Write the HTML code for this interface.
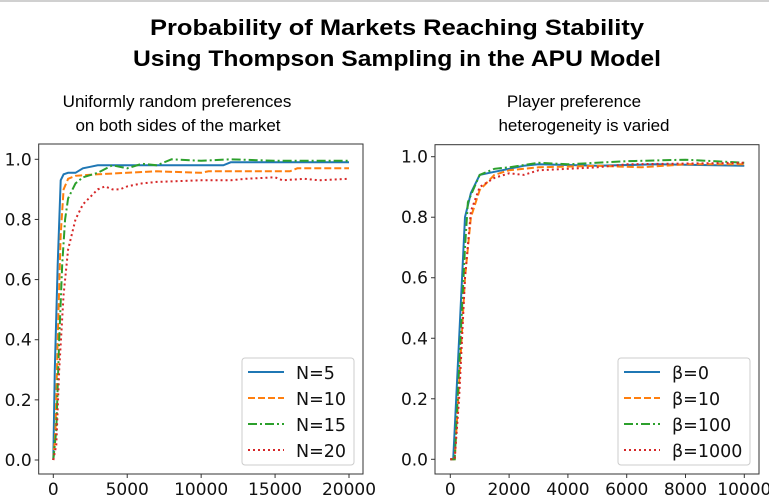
<!DOCTYPE html>
<html><head><meta charset="utf-8"><style>
html,body{margin:0;padding:0;background:#fff;width:769px;height:499px;overflow:hidden}
svg{display:block}
.t{font-family:"Liberation Sans",sans-serif;font-weight:bold;font-size:22px;fill:#000}
.s{font-family:"Liberation Sans",sans-serif;font-size:17px;fill:#000}
.k{font-family:"DejaVu Sans",sans-serif;font-size:17px;fill:#111}
.lg{font-family:"DejaVu Sans",sans-serif;font-size:17.5px;fill:#111}
</style></head><body>
<svg id="c" width="769" height="499" xmlns="http://www.w3.org/2000/svg">
<rect x="0" y="0" width="769" height="2" fill="#d0d0d0"/>
<text class="t" x="397" y="35" text-anchor="middle" textLength="494" lengthAdjust="spacingAndGlyphs">Probability of Markets Reaching Stability</text>
<text class="t" x="397" y="66" text-anchor="middle" textLength="528" lengthAdjust="spacingAndGlyphs">Using Thompson Sampling in the APU Model</text>
<text class="s" x="177" y="107" text-anchor="middle">Uniformly random preferences</text>
<text class="s" x="178" y="131" text-anchor="middle">on both sides of the market</text>
<text class="s" x="574" y="107" text-anchor="middle">Player preference</text>
<text class="s" x="584" y="131" text-anchor="middle">heterogeneity is varied</text>
<g id="g"></g>
</svg>
<script>
var NS="http://www.w3.org/2000/svg",g=document.getElementById("g");
function el(n,a,t){var e=document.createElementNS(NS,n);for(var k in a)e.setAttribute(k,a[k]);if(t!=null)e.textContent=t;g.appendChild(e);return e;}
var C=["#1f77b4","#ff7f0e","#2ca02c","#d62728"],D=["","7,3","9,3,2,3","2,3"];
function panel(P){
 var X=function(v){return P.x0+(P.x1-P.x0)*v/P.xm},Y=function(v){return P.y0-(P.y0-P.y1)*v};
 P.ser.forEach(function(s,i){var d=s.map(function(p,j){return (j?"L":"M")+X(p[0]).toFixed(1)+","+Y(p[1]).toFixed(1)}).join("");
  var a={d:d,fill:"none",stroke:C[i],"stroke-width":2};if(D[i])a["stroke-dasharray"]=D[i];el("path",a);});
 el("rect",{x:P.L,y:P.T,width:P.R-P.L,height:P.B-P.T,fill:"none",stroke:"#333","stroke-width":1});
 for(var v=0;v<=5;v++){var y=Y(v*0.2);el("line",{x1:P.L-4,x2:P.L,y1:y,y2:y,stroke:"#333"});el("text",{"class":"k",x:P.L-7,y:y+6,"text-anchor":"end"},(v*0.2).toFixed(1));}
 P.xt.forEach(function(v){var x=X(v);el("line",{x1:x,x2:x,y1:P.B,y2:P.B+4,stroke:"#333"});el("text",{"class":"k",x:x,y:P.B+21,"text-anchor":"middle"},String(v));});
 var l=P.lg;el("rect",{x:l[0],y:l[1],width:l[2],height:l[3],rx:3,fill:"#fff","fill-opacity":0.85,stroke:"#ccc"});
 P.lab.forEach(function(t,i){var y=l[1]+14+i*26;var a={x1:l[0]+6,x2:l[0]+42,y1:y,y2:y,stroke:C[i],"stroke-width":2};if(D[i])a["stroke-dasharray"]=D[i];el("line",a);
  el("text",{"class":"lg",x:l[0]+54,y:y+7},t);});
}
panel({L:38.7,R:363,T:144,B:474,x0:53.3,x1:349,xm:20000,y0:460,y1:159.3,xt:[0,5000,10000,15000,20000],lg:[242,358,112,107],lab:["N=5","N=10","N=15","N=20"],
ser:[
[[0,0],[100,0.3],[300,0.65],[500,0.93],[700,0.95],[1000,0.955],[1500,0.955],[2000,0.97],[2500,0.975],[3000,0.98],[3300,0.98],[11500,0.98],[12000,0.99],[20000,0.99]],
[[0,0],[150,0.1],[300,0.4],[500,0.75],[700,0.9],[1000,0.935],[1500,0.945],[3000,0.95],[5000,0.955],[7000,0.96],[10000,0.955],[10500,0.96],[16000,0.96],[16500,0.97],[20000,0.97]],
[[0,0],[200,0.1],[400,0.4],[600,0.65],[800,0.8],[1000,0.87],[1500,0.92],[2000,0.94],[3000,0.955],[4000,0.98],[5000,0.97],[6000,0.985],[7000,0.98],[8000,1.0],[10000,0.995],[12000,1.0],[15000,0.995],[20000,0.995]],
[[0,0],[200,0.05],[400,0.3],[700,0.55],[1000,0.7],[1500,0.8],[2000,0.85],[3000,0.9],[3500,0.91],[4000,0.9],[4500,0.9],[5000,0.91],[6000,0.92],[7000,0.925],[10000,0.93],[12000,0.93],[13000,0.935],[15000,0.94],[15500,0.93],[17000,0.935],[18000,0.93],[20000,0.935]]]});
panel({L:435,R:759,T:144.7,B:474,x0:450.3,x1:744.3,xm:10000,y0:459.3,y1:156.7,xt:[0,2000,4000,6000,8000,10000],lg:[618,358,132,107],lab:["β=0","β=10","β=100","β=1000"],
ser:[
[[0,0],[100,0],[200,0.2],[350,0.5],[500,0.8],[700,0.88],[1000,0.94],[1500,0.95],[2000,0.96],[2500,0.97],[3000,0.975],[5000,0.97],[7000,0.975],[10000,0.97]],
[[0,0],[150,0],[300,0.25],[500,0.6],[700,0.8],[1000,0.89],[1500,0.94],[2000,0.955],[3000,0.965],[5000,0.97],[6500,0.965],[8000,0.975],[10000,0.975]],
[[0,0],[150,0],[300,0.3],[500,0.7],[600,0.85],[1000,0.94],[1500,0.96],[2000,0.965],[3000,0.98],[4000,0.975],[6000,0.985],[8000,0.99],[10000,0.98]],
[[0,0],[150,0],[300,0.2],[500,0.6],[700,0.82],[1000,0.9],[1500,0.93],[2000,0.945],[2500,0.94],[3000,0.955],[4000,0.96],[5000,0.965],[6000,0.975],[10000,0.98]]]});
</script>
</body></html>
